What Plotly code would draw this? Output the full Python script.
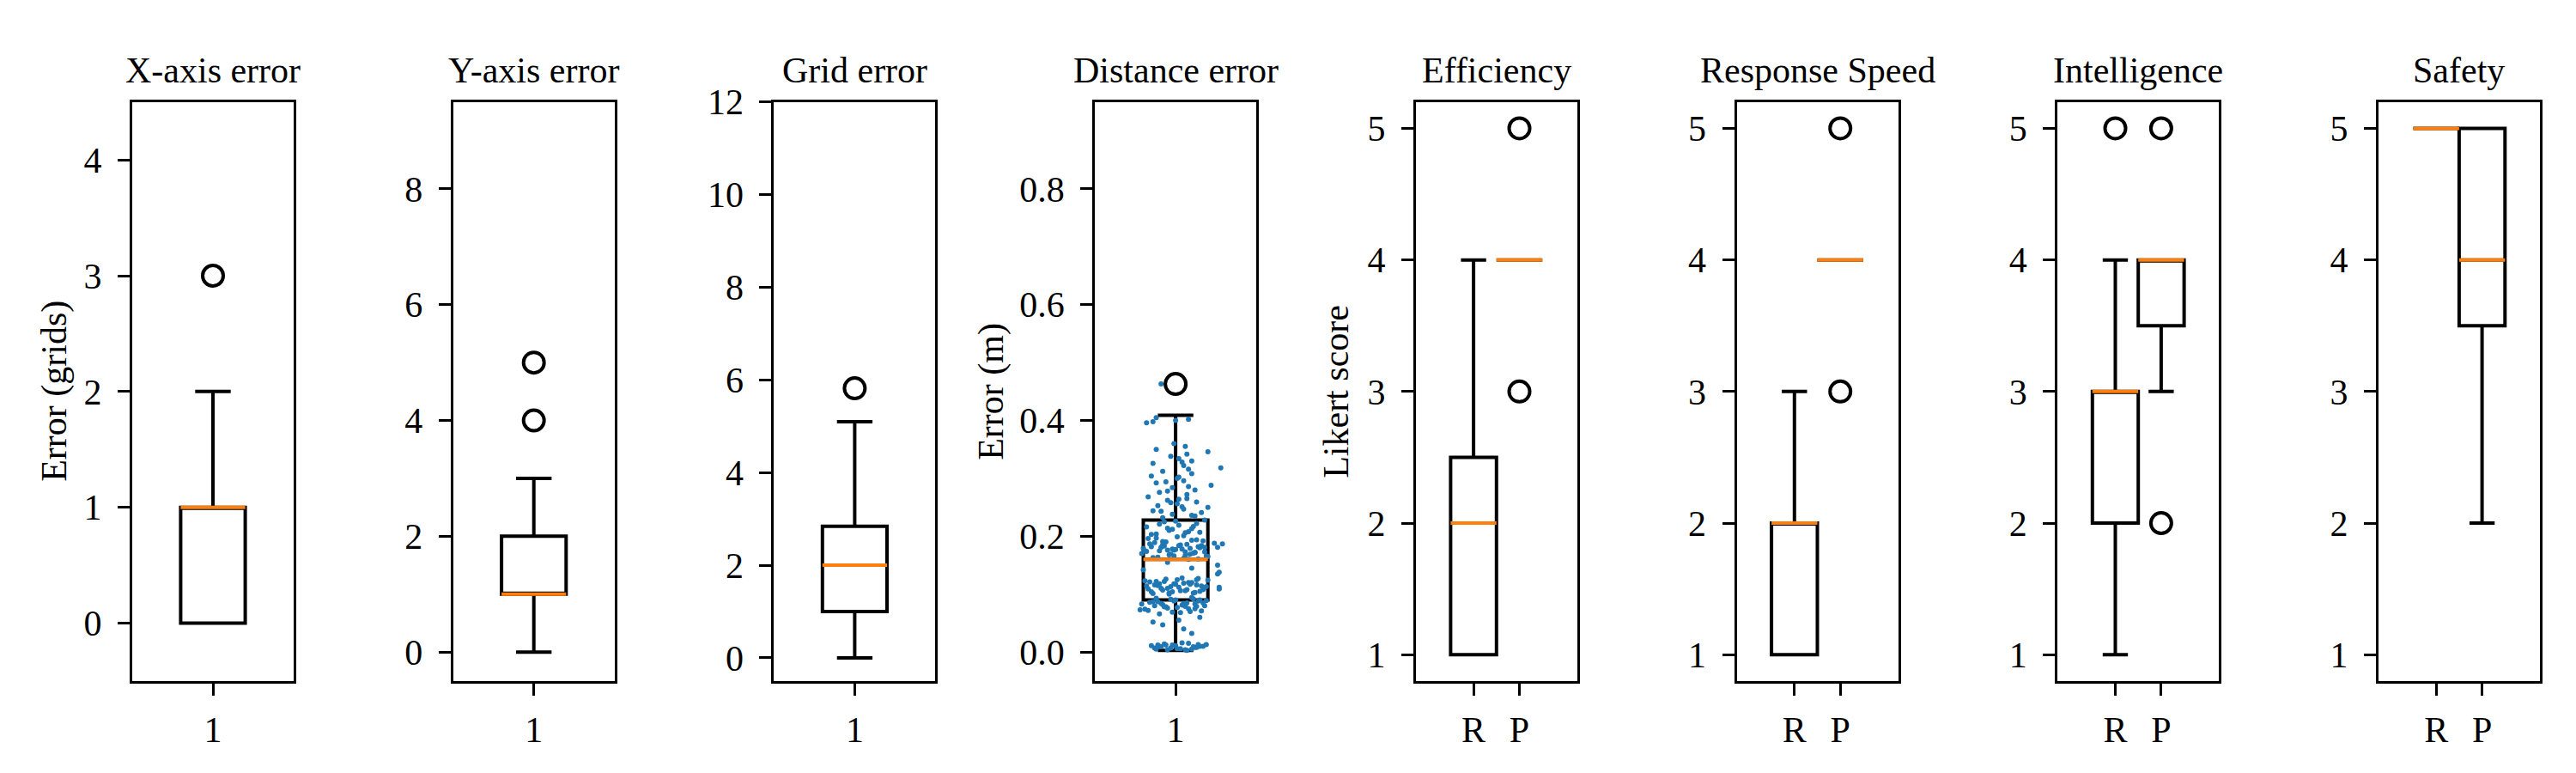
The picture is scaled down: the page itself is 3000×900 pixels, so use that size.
import plotly.graph_objects as go

# ---------------- data ----------------
panel_titles = ["X-axis error", "Y-axis error", "Grid error", "Distance error",
                "Efficiency", "Response Speed", "Intelligence", "Safety"]
y_titles = {0: "Error (grids)", 3: "Error (m)", 4: "Likert score"}

# box stats: [q1, median, q3, lower whisker, upper whisker]
xerr_stats = [0, 1, 1, 0, 2]
xerr_out = [3]
yerr_stats = [1, 1, 2, 0, 3]
yerr_out = [4, 5]
grid_stats = [1.0, 2.0, 2.84, 0.0, 5.1]
grid_out = [5.82]
dist_stats = [0.09, 0.16, 0.228, 0.003, 0.409]
dist_out = [0.463]

likert_labels = ["R", "P"]
eff_R = [1, 2, 2.5, 1, 4]
eff_P = [4, 4, 4, 4, 4]
eff_out_R = []
eff_out_P = [3, 5]
resp_R = [1, 2, 2, 1, 3]
resp_P = [4, 4, 4, 4, 4]
resp_out_R = []
resp_out_P = [3, 5]
int_R = [2, 3, 3, 1, 4]
int_P = [3.5, 4, 4, 3, 4]
int_out_R = [5]
int_out_P = [2, 5]
saf_R = [5, 5, 5, 5, 5]
saf_P = [3.5, 4, 5, 2, 5]
saf_out_R = []
saf_out_P = []

# distance error samples (values in m) and their horizontal jitter
dist_vals = [
    0.004, 0.007, 0.010, 0.012, 0.005, 0.009, 0.013, 0.006, 0.011, 0.015,
    0.004, 0.008, 0.012, 0.006, 0.010, 0.014, 0.009, 0.005, 0.011, 0.013,
    0.007, 0.003, 0.010, 0.016, 0.008, 0.012,
    0.032, 0.047, 0.055, 0.060, 0.052, 0.040,
    0.068, 0.072, 0.075, 0.078, 0.080, 0.083, 0.085, 0.088, 0.090, 0.093,
    0.070, 0.074, 0.077, 0.079, 0.082, 0.084, 0.087, 0.089, 0.091, 0.094,
    0.066, 0.071, 0.076, 0.081, 0.086, 0.092, 0.073, 0.079, 0.084, 0.088,
    0.069, 0.075, 0.080, 0.085, 0.090, 0.078, 0.083, 0.087,
    0.100, 0.102, 0.104, 0.106, 0.108, 0.110, 0.112, 0.114, 0.116, 0.118,
    0.120, 0.122, 0.124, 0.126, 0.128, 0.101, 0.105, 0.109, 0.113, 0.117,
    0.121, 0.125, 0.103, 0.107, 0.111, 0.115, 0.119, 0.123, 0.127, 0.104,
    0.108, 0.112, 0.116, 0.120, 0.110, 0.114, 0.118, 0.106, 0.122, 0.113,
    0.109, 0.117, 0.125, 0.102,
    0.135, 0.138, 0.142, 0.145, 0.150, 0.155,
    0.160, 0.163, 0.166, 0.169, 0.172, 0.175, 0.178, 0.181, 0.184, 0.187,
    0.190, 0.193, 0.196, 0.199, 0.161, 0.164, 0.167, 0.170, 0.173, 0.176,
    0.179, 0.182, 0.185, 0.188, 0.191, 0.194, 0.197, 0.162, 0.165, 0.168,
    0.171, 0.174, 0.177, 0.180, 0.183, 0.186, 0.189, 0.192, 0.178, 0.181,
    0.175, 0.184, 0.172, 0.187, 0.169, 0.176, 0.182, 0.179, 0.173, 0.185,
    0.181, 0.166,
    0.201, 0.204, 0.207, 0.210, 0.213, 0.216, 0.219, 0.222, 0.225, 0.228,
    0.203, 0.208, 0.212, 0.217, 0.221, 0.226, 0.206, 0.214,
    0.232, 0.235, 0.238, 0.241, 0.244, 0.247, 0.250, 0.253, 0.256, 0.259,
    0.262, 0.265, 0.268, 0.236, 0.243, 0.251, 0.258, 0.264,
    0.272, 0.276, 0.280, 0.284, 0.288, 0.292, 0.296, 0.300, 0.304, 0.308,
    0.278, 0.286, 0.294, 0.302,
    0.312, 0.318, 0.322, 0.326, 0.330, 0.334, 0.338, 0.342, 0.346, 0.350,
    0.355, 0.360, 0.316, 0.328,
    0.396, 0.398, 0.402, 0.405, 0.400, 0.463,
]
dist_jitter = [
    0.06, -0.13, 0.15, -0.02, 0.10, -0.09, 0.19, 0.01, -0.15, 0.08,
    -0.05, 0.13, -0.11, 0.03, 0.17, -0.07, 0.11, -0.12, 0.00, 0.14,
    -0.03, 0.07, -0.10, 0.04, 0.12, -0.06,
    0.10, -0.08, 0.02, 0.15, -0.14, 0.05,
    0.03, -0.17, 0.12, -0.06, 0.18, -0.21, 0.07, -0.01, 0.15, -0.12,
    0.09, -0.19, 0.01, 0.13, -0.08, 0.05, -0.14, 0.19, -0.03, 0.10,
    -0.10, 0.16, -0.05, 0.04, -0.16, 0.11, -0.22, 0.06, -0.09, 0.14,
    -0.02, 0.08, -0.13, 0.17, 0.00, -0.07, 0.12, -0.11,
    -0.04, 0.11, -0.15, 0.06, 0.17, -0.09, 0.02, -0.18, 0.13, -0.01,
    0.08, -0.12, 0.20, -0.06, 0.04, -0.14, 0.15, 0.27, -0.03, 0.09,
    -0.16, 0.01, 0.12, -0.08, 0.18, -0.11, 0.05, -0.19, 0.14, -0.02,
    0.07, 0.27, -0.13, 0.10, -0.05, 0.16, -0.10, 0.03, -0.07, 0.19,
    -0.17, 0.00, 0.13, -0.04,
    0.26, 0.27, -0.20, 0.10, 0.26, -0.05,
    0.08, -0.14, 0.19, -0.03, 0.12, -0.19, 0.04, -0.09, 0.16, 0.29,
    -0.06, 0.10, -0.17, 0.01, 0.14, -0.11, 0.06, -0.21, 0.18, -0.01,
    0.09, -0.15, 0.03, 0.24, -0.08, 0.13, -0.12, 0.05, 0.20, -0.04,
    0.11, -0.18, 0.00, 0.15, -0.07, 0.07, -0.13, 0.17, -0.02, 0.26,
    -0.10, 0.02, 0.12, -0.16, 0.09, -0.05, 0.14, -0.20, 0.06, -0.08,
    0.18, -0.01,
    0.05, -0.12, 0.15, -0.04, 0.10, -0.18, 0.02, 0.13, -0.07, 0.18,
    -0.15, 0.08, -0.02, 0.11, -0.10, 0.00, 0.06, -0.05,
    -0.08, 0.12, -0.02, 0.16, -0.14, 0.05, 0.20, -0.11, 0.01, 0.13,
    -0.05, 0.07, -0.17, 0.10, -0.09, 0.04, -0.03, 0.02,
    0.07, -0.10, 0.12, -0.02, 0.22, -0.12, 0.05, 0.01, -0.15, 0.10,
    -0.05, 0.08, -0.06, 0.02,
    -0.08, 0.28, 0.05, -0.14, 0.10, 0.02, -0.03, 0.07, 0.20, -0.12,
    0.06, -0.01, 0.08, 0.04,
    -0.18, -0.14, 0.08, -0.12, 0.00, -0.09,
]

# ---------------- styling ----------------
W, H = 3000, 900
FONT = "Liberation Serif"
FS = 42
BLUE = "#1f77b4"
ORANGE = "#ff7f0e"
OFF = 8  # page body margin offset
LEFT0, STEP, PW = 154 - OFF, 373.7, 188
TOP, BOTTOM = 99 - OFF, 790 - OFF

fig = go.Figure()


def ax_names(i):
    return ("x" if i == 0 else f"x{i+1}", "y" if i == 0 else f"y{i+1}")


def add_box(i, pos, stats, width, outliers):
    xr, yr = ax_names(i)
    q1, med, q3, lo, hi = stats
    fig.add_trace(go.Box(
        x=[pos], q1=[q1], median=[med], q3=[q3], lowerfence=[lo], upperfence=[hi],
        width=width, whiskerwidth=0.55, boxpoints=False,
        line=dict(color="black", width=4), fillcolor="rgba(0,0,0,0)",
        xaxis=xr, yaxis=yr, showlegend=False, hoverinfo="skip"))
    fig.add_trace(go.Scatter(
        x=[pos - width / 2, pos + width / 2], y=[med, med], mode="lines",
        line=dict(color=ORANGE, width=4), xaxis=xr, yaxis=yr,
        showlegend=False, hoverinfo="skip"))
    if outliers:
        fig.add_trace(go.Scatter(
            x=[pos] * len(outliers), y=outliers, mode="markers",
            marker=dict(symbol="circle-open", size=24, color="black",
                        line=dict(color="black", width=4)),
            xaxis=xr, yaxis=yr, showlegend=False, hoverinfo="skip"))


# distance jitter points (drawn under the box)
fig.add_trace(go.Scatter(
    x=[1 + d for d, _ in zip(dist_jitter, dist_vals)],
    y=[v for _, v in zip(dist_jitter, dist_vals)],
    mode="markers", marker=dict(size=6, color=BLUE, line=dict(width=0)),
    xaxis="x4", yaxis="y4", showlegend=False, hoverinfo="skip"))

single = [(xerr_stats, xerr_out), (yerr_stats, yerr_out),
          (grid_stats, grid_out), (dist_stats, dist_out)]
for i, (st, out) in enumerate(single):
    add_box(i, 1, st, 0.4, out)

likert = [(eff_R, eff_out_R, eff_P, eff_out_P),
          (resp_R, resp_out_R, resp_P, resp_out_P),
          (int_R, int_out_R, int_P, int_out_P),
          (saf_R, saf_out_R, saf_P, saf_out_P)]
for k, (r, ro, p, po) in enumerate(likert):
    add_box(4 + k, 1, r, 1.0, ro)
    add_box(4 + k, 2, p, 1.0, po)

y_ranges = [[-0.5, 4.5], [-0.5, 9.5], [-0.5, 12], [-0.05, 0.95]] + [[0.8, 5.2]] * 4
y_ticks = [[0, 1, 2, 3, 4], [0, 2, 4, 6, 8], [0, 2, 4, 6, 8, 10, 12],
           [0.0, 0.2, 0.4, 0.6, 0.8]] + [[1, 2, 3, 4, 5]] * 4

base = dict(showline=True, mirror=True, linecolor="black", linewidth=3,
            ticks="outside", ticklen=14, tickwidth=3, tickcolor="black",
            showgrid=False, zeroline=False,
            tickfont=dict(family=FONT, size=FS, color="black"))

layout = {}
ann = []
for i in range(8):
    l = LEFT0 + STEP * i
    xdom = [l / W, (l + PW) / W]
    ydom = [1 - BOTTOM / H, 1 - TOP / H]
    xk = "xaxis" if i == 0 else f"xaxis{i+1}"
    yk = "yaxis" if i == 0 else f"yaxis{i+1}"
    xr, yr = ax_names(i)
    if i < 4:
        xax = dict(base, domain=xdom, anchor=yr, range=[0.5, 1.5],
                   tickvals=[1], ticktext=["1"], ticklabelstandoff=4)
    else:
        xax = dict(base, domain=xdom, anchor=yr, range=[-0.26, 3.26],
                   tickvals=[1, 2], ticktext=likert_labels, ticklabelstandoff=4)
    yax = dict(base, domain=ydom, anchor=xr, range=y_ranges[i],
               tickvals=y_ticks[i], ticklabelstandoff=10)
    if i == 3:
        yax["tickformat"] = ".1f"
    layout[xk] = xax
    layout[yk] = yax
    ann.append(dict(text=panel_titles[i], x=(l + PW / 2) / W, y=1 - (61 - OFF) / H,
                    xref="paper", yref="paper", showarrow=False,
                    xanchor="center", yanchor="middle",
                    font=dict(family=FONT, size=FS, color="black")))

for i, t, xc in [(0, y_titles[0], 64), (3, y_titles[3], 1155), (4, y_titles[4], 1556)]:
    ann.append(dict(text=t, x=(xc - OFF) / W, y=1 - ((TOP + BOTTOM) / 2) / H,
                    xref="paper", yref="paper", showarrow=False, textangle=-90,
                    xanchor="center", yanchor="middle",
                    font=dict(family=FONT, size=FS, color="black")))

fig.update_layout(width=W, height=H, margin=dict(l=0, r=0, t=0, b=0),
                  paper_bgcolor="white", plot_bgcolor="white",
                  boxmode="overlay", showlegend=False, annotations=ann,
                  font=dict(family=FONT, size=FS, color="black"), **layout)

fig.write_html("out.html")
